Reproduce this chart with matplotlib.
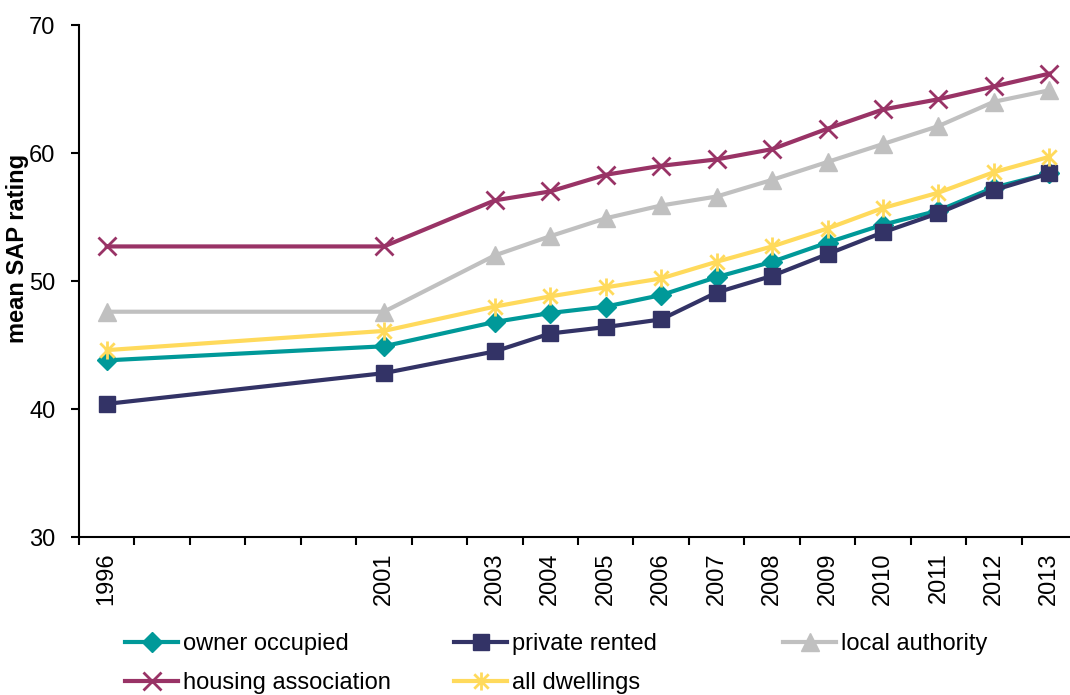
import numpy as np
import matplotlib
matplotlib.use('Agg')
import matplotlib.pyplot as plt
from matplotlib.path import Path

plt.rcParams['font.family'] = ['Liberation Sans', 'DejaVu Sans']

years = [1996, 2001, 2003, 2004, 2005, 2006, 2007, 2008, 2009, 2010, 2011, 2012, 2013]
owner_occupied = [43.8, 44.9, 46.8, 47.5, 48.0, 48.9, 50.3, 51.5, 53.0, 54.4, 55.5, 57.3, 58.4]
private_rented = [40.4, 42.8, 44.5, 45.9, 46.4, 47.0, 49.1, 50.4, 52.1, 53.8, 55.3, 57.1, 58.4]
local_authority = [47.6, 47.6, 52.0, 53.5, 54.9, 55.9, 56.6, 57.9, 59.3, 60.7, 62.1, 64.0, 64.9]
housing_association = [52.7, 52.7, 56.3, 57.0, 58.3, 59.0, 59.5, 60.3, 61.9, 63.4, 64.2, 65.2, 66.2]
all_dwellings = [44.6, 46.1, 48.0, 48.8, 49.5, 50.2, 51.5, 52.7, 54.1, 55.7, 56.9, 58.5, 59.7]

# excel style star: x with a vertical bar
star = Path([(-1, -1), (1, 1), (-1, 1), (1, -1), (0, -1.25), (0, 1.25)],
            [Path.MOVETO, Path.LINETO, Path.MOVETO, Path.LINETO, Path.MOVETO, Path.LINETO])

series = [
    ('owner occupied', owner_occupied, '#009999', dict(marker='D', ms=10, mec='#009999')),
    ('private rented', private_rented, '#333366', dict(marker='s', ms=11, mec='#333366')),
    ('local authority', local_authority, '#C0C0C0', dict(marker='^', ms=13, mec='#C0C0C0')),
    ('housing association', housing_association, '#993366', dict(marker='x', ms=13, mew=2)),
    ('all dwellings', all_dwellings, '#FFDA5C', dict(marker=star, ms=13, mew=2)),
]

W, H = 1070, 695
fig = plt.figure(figsize=(W/100, H/100), dpi=100)
ax = fig.add_axes([79/W, 1-537/H, 998/W, 512/H])

lines = {}
for i, (name, vals, col, mk) in enumerate(series):
    ln, = ax.plot(years, vals, color=col, lw=3, label=name, zorder=3+i, clip_on=False, **mk)
    lines[name] = ln

ax.set_xlim(1995.5, 2013.5)
ax.set_ylim(30, 70)
ax.set_yticks([30, 40, 50, 60, 70])
ax.set_xticks(np.arange(1995.5, 2014, 1.0))
ax.set_xticklabels([])
ax.set_xticks(years, minor=True)
ax.set_xticklabels([str(y) for y in years], minor=True, rotation=90)
ax.tick_params(axis='x', which='major', length=6, width=1.5, direction='out')
ax.tick_params(axis='x', which='minor', length=0, pad=11, labelsize=17)
ax.tick_params(axis='y', length=6, width=1.5, direction='out', pad=11, labelsize=17)
for s in ['top', 'right']:
    ax.spines[s].set_visible(False)
for s in ['left', 'bottom']:
    ax.spines[s].set_linewidth(1.5)

fig.text(18/W, 1-248/H, 'mean SAP rating', rotation=90, ha='center', va='center',
         fontsize=17, fontweight='bold')

cols = [(['owner occupied', 'housing association'], 125),
        (['private rented', 'all dwellings'], 454),
        (['local authority'], 783)]
for names, x0 in cols:
    leg = fig.legend([lines[n] for n in names], names, loc='upper left',
                     bbox_to_anchor=(x0/W, 1-633/H), frameon=False, fontsize=17,
                     handlelength=2.25, handletextpad=0.2, labelspacing=0.72,
                     borderpad=0, borderaxespad=0)

fig.savefig('out.png', dpi=100)
